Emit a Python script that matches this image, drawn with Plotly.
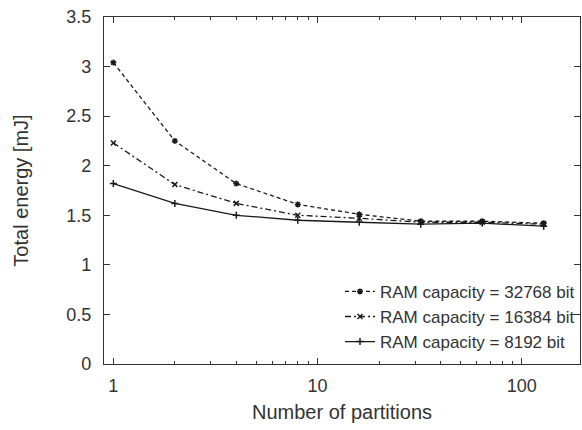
import plotly.graph_objects as go

partitions = [1, 2, 4, 8, 16, 32, 64, 128]
energy_32768 = [3.04, 2.25, 1.82, 1.61, 1.51, 1.44, 1.44, 1.42]
energy_16384 = [2.23, 1.81, 1.62, 1.50, 1.47, 1.43, 1.43, 1.41]
energy_8192 = [1.82, 1.62, 1.50, 1.45, 1.43, 1.41, 1.42, 1.39]
names = ["RAM capacity = 32768 bit", "RAM capacity = 16384 bit", "RAM capacity = 8192 bit"]
minor_ticks = [m * 10 ** e for e in range(0, 3) for m in range(2, 10)]

fig = go.Figure()
series = [
    (energy_32768, names[0], "4px,3px", "asterisk-open"),
    (energy_16384, names[1], "6px,3px,2px,3px", "x-thin-open"),
    (energy_8192, names[2], "solid", "cross-thin-open"),
]
for ys, nm, dash, sym in series:
    fig.add_trace(go.Scatter(
        x=partitions, y=ys, name=nm, mode="lines+markers",
        line=dict(color="#1a1a1a", width=1.3, dash=dash),
        marker=dict(symbol=sym, size=5, color="#1a1a1a", line=dict(width=1.5, color="#1a1a1a")),
    ))

FAM = "Liberation Sans, Arial, sans-serif"
fig.update_layout(
    width=582, height=430,
    margin=dict(l=104, r=2, t=17, b=66),
    paper_bgcolor="white", plot_bgcolor="white",
    font=dict(family=FAM, size=17, color="#333333"),
    showlegend=True,
    legend=dict(x=1.0, y=0.012, xanchor="right", yanchor="bottom",
                bgcolor="rgba(0,0,0,0)", font=dict(family=FAM, size=17, color="#333333"),
                itemwidth=30, tracegroupgap=0),
    xaxis=dict(type="log", range=[-0.0458, 2.285],
               tickvals=[1, 10, 100], ticktext=["1", "10", "100"],
               tickfont=dict(family=FAM, size=18, color="#333333"),
               ticks="inside", ticklen=6, tickcolor="#333", mirror="ticks",
               ticklabelstandoff=5,
               showline=True, linecolor="#333", linewidth=1.2, showgrid=False, zeroline=False,
               minor=dict(ticks="inside", ticklen=3, tickcolor="#333", tickmode="array",
                          tickvals=minor_ticks, showgrid=False),
               title=dict(text="Number of partitions",
                          font=dict(family=FAM, size=20, color="#333333"), standoff=10)),
    yaxis=dict(range=[0, 3.5], tickvals=[0, 0.5, 1, 1.5, 2, 2.5, 3, 3.5],
               ticktext=["0", "0.5", "1", "1.5", "2", "2.5", "3", "3.5"],
               tickfont=dict(family=FAM, size=18, color="#333333"),
               ticks="inside", ticklen=6, tickcolor="#333", mirror="ticks",
               ticklabelstandoff=8,
               showline=True, linecolor="#333", linewidth=1.2, showgrid=False, zeroline=False,
               title=dict(text="Total energy [mJ]",
                          font=dict(family=FAM, size=20, color="#333333"), standoff=32)),
)
fig.write_html("out.html")
